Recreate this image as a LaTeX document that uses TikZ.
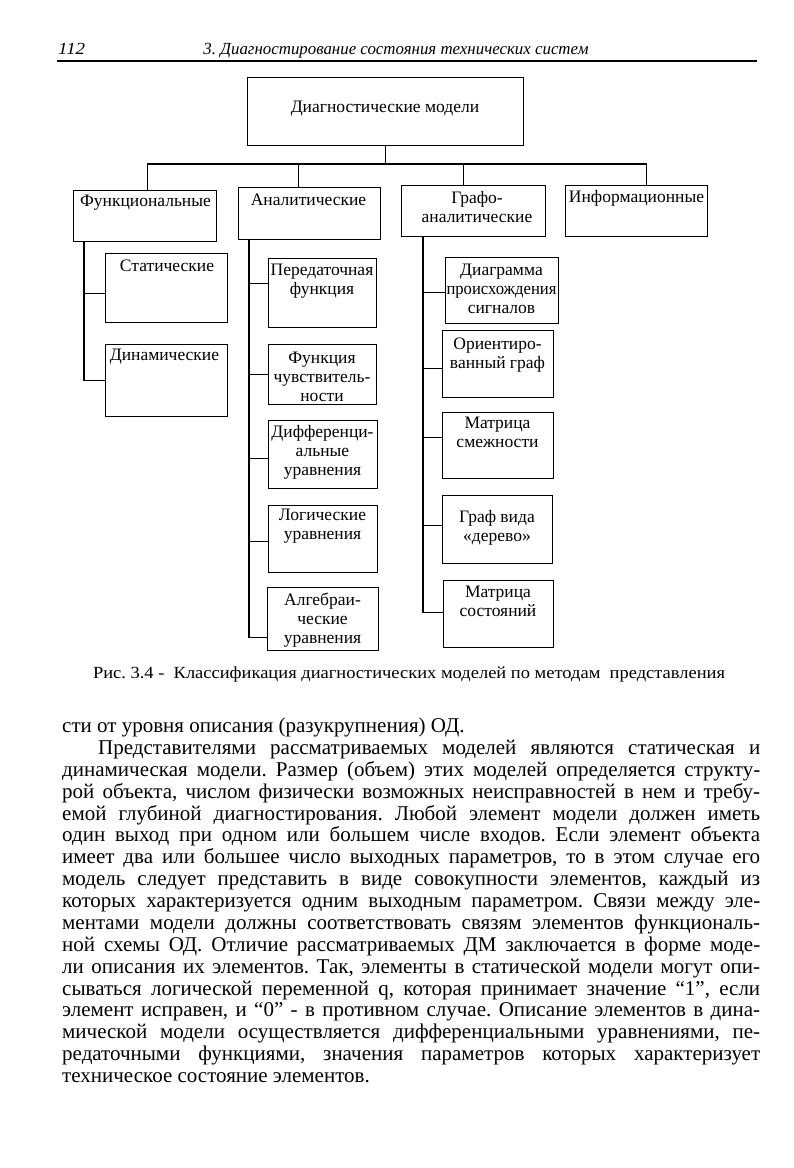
\documentclass[tikz,border=0pt]{standalone}
\usepackage{fontspec}
\setmainfont{Liberation Serif}
\usepackage{graphicx}
\frenchspacing
\newsavebox\jbox
\newcommand\jline[2]{\sbox\jbox{#2}\ifdim\wd\jbox>#1\relax\resizebox{#1}{\height}{\usebox\jbox}\else\makebox[#1][s]{#2}\fi}
\newcommand\fitw[2]{\resizebox{#1}{\height}{#2}}
\newcommand\mkbox[5]{\node[box, minimum width={(#4-#2)*1pt}, minimum height={(#5-#3)*1pt}] (#1) at (#2,#3) {};}
\tikzset{
  box/.style={draw, line width=1.3pt, rectangle, inner sep=0pt, anchor=north west},
  lbl/.style={inner sep=0pt, align=center, font=\fontsize{17.5}{19}\selectfont},
  con/.style={line width=1.3pt},
  body/.style={inner sep=0pt, anchor=base west, font=\fontsize{21}{22}\selectfont},
}
\begin{document}
\begin{tikzpicture}[x=1pt,y=-1pt]
\useasboundingbox (0,0) rectangle (793,1168);
\fill[white] (0,0) rectangle (793,1168);
% header
\node[anchor=base west, inner sep=0pt, font=\itshape\fontsize{17}{20}\selectfont] (pg) at (58,54) {\fitw{27pt}{112}};
\node[anchor=base, inner sep=0pt, font=\itshape\fontsize{17}{20}\selectfont] (hd) at (396,54) {\fitw{385pt}{3. Диагностирование состояния технических систем}};
\draw[line width=1.2pt] (57,61) -- (757,61);
% boxes
\mkbox{top}{247}{77}{523}{145}
\mkbox{F}{73}{190}{216}{241}
\mkbox{A}{238}{187}{380}{239}
\mkbox{G}{401}{185}{545}{236}
\mkbox{I}{565}{185}{707}{236}
\mkbox{F1}{105}{253}{227}{322}
\mkbox{F2}{105}{344}{227}{416}
\mkbox{A1}{268}{258}{376}{327}
\mkbox{A2}{268}{344}{376}{404}
\mkbox{A3}{268}{420}{377}{488}
\mkbox{A4}{268}{505}{377}{572}
\mkbox{A5}{267}{587}{378}{650}
\mkbox{G1}{445}{257}{558}{323}
\mkbox{G2}{442}{330}{553}{397}
\mkbox{G3}{442}{412}{553}{478}
\mkbox{G4}{442}{495}{552}{563}
\mkbox{G5}{443}{580}{553}{647}
% labels
\node[lbl] (ttop) at (385,109) {Диагностические модели};
\node[lbl] (tF) at (145.5,203) {Функциональные};
\node[lbl] (tA) at (308.5,200) {Аналитические};
\node[lbl] (tG) at (477,207.5) {Графо-\\аналитические};
\node[lbl] (tI) at (636.5,198) {Информационные};
\node[lbl] (tF1) at (167,266) {Статические};
\node[lbl] (tF2) at (164.5,357) {Динамические};
\node[lbl] (tA1) at (322,281.5) {Передаточная\\функция};
\node[lbl] (tA2) at (322,376.5) {Функция\\чувствитель-\\ности};
\node[lbl] (tA3) at (322.5,452) {Дифференци-\\альные\\уравнения};
\node[lbl] (tA4) at (322.5,526) {Логические\\уравнения};
\node[lbl] (tA5) at (322.5,620) {Алгебраи-\\ческие\\уравнения};
\node[lbl] (tG1) at (501.5,288.5) {Диаграмма\\\fitw{110pt}{происхождения}\\сигналов};
\node[lbl] (tG2) at (497.5,355) {Ориентиро-\\ванный граф};
\node[lbl] (tG3) at (497.5,432.5) {Матрица\\смежности};
\node[lbl] (tG4) at (497,527.5) {Граф вида\\«дерево»};
\node[lbl] (tG5) at (498,601) {Матрица\\состояний};
% bus connectors
\coordinate (bus) at (383,164);
\coordinate (dF) at ([xshift=2.5pt]F.north);
\coordinate (dA) at ([xshift=-11pt]A.north);
\coordinate (dG) at ([xshift=-10pt]G.north);
\coordinate (dI) at ([xshift=10pt]I.north);
\draw[con] (top.south) -- (top.south |- bus);
\draw[con] (dF) |- (dI |- bus) -- (dI);
\draw[con] (dA) -- (dA |- bus);
\draw[con] (dG) -- (dG |- bus);
% trunks
\coordinate (trF) at (84,241);
\coordinate (trA) at (249,239);
\coordinate (trG) at (423,236);
\draw[con] (trF) |- (F2.west);
\draw[con] ([yshift=-5.5pt]F1.west) -- ([yshift=-5.5pt]F1.west -| trF);
\draw[con] (trA) |- ([yshift=-18.5pt]A5.west);
\draw[con] ([yshift=9.5pt]A1.west) -- ([yshift=9.5pt]A1.west -| trA);
\draw[con] (A2.west) -- (A2.west -| trA);
\draw[con] ([yshift=-4pt]A3.west) -- ([yshift=-4pt]A3.west -| trA);
\draw[con] ([yshift=-2.5pt]A4.west) -- ([yshift=-2.5pt]A4.west -| trA);
\draw[con] (trG) |- ([yshift=1.5pt]G5.west);
\draw[con] ([yshift=-2pt]G1.west) -- ([yshift=-2pt]G1.west -| trG);
\draw[con] ([yshift=-4.5pt]G2.west) -- ([yshift=-4.5pt]G2.west -| trG);
\draw[con] ([yshift=8pt]G3.west) -- ([yshift=8pt]G3.west -| trG);
\draw[con] ([yshift=4pt]G4.west) -- ([yshift=4pt]G4.west -| trG);
% caption
\node[anchor=base, inner sep=0pt, font=\fontsize{17}{20}\selectfont] (cap) at (409,678) {\fitw{632pt}{Рис. 3.4 -\ \ Классификация диагностических моделей по методам\ \ представления}};
% body text
\node[body] (l1) at (62,732) {сти от уровня описания (разукрупнения) ОД.};
\node[body] (l2) at (98,754) {\jline{662pt}{Представителями рассматриваемых моделей являются статическая и}};
\node[body] (l3) at (62,776) {\jline{698pt}{динамическая модели. Размер (объем) этих моделей определяется структу-}};
\node[body] (l4) at (62,798) {\jline{698pt}{рой объекта, числом физически возможных неисправностей в нем и требу-}};
\node[body] (l5) at (62,820) {\jline{698pt}{емой глубиной диагностирования. Любой элемент модели должен иметь}};
\node[body] (l6) at (62,841) {\jline{698pt}{один выход при одном или большем числе входов. Если элемент объекта}};
\node[body] (l7) at (62,863) {\jline{698pt}{имеет два или большее число выходных параметров, то в этом случае его}};
\node[body] (l8) at (62,885) {\jline{698pt}{модель следует представить в виде совокупности элементов, каждый из}};
\node[body] (l9) at (62,907) {\jline{698pt}{которых характеризуется одним выходным параметром. Связи между эле-}};
\node[body] (l10) at (62,929) {\jline{698pt}{ментами модели должны соответствовать связям элементов функциональ-}};
\node[body] (l11) at (62,951) {\jline{698pt}{ной схемы ОД. Отличие рассматриваемых ДМ заключается в форме моде-}};
\node[body] (l12) at (62,973) {\jline{698pt}{ли описания их элементов. Так, элементы в статической модели могут опи-}};
\node[body] (l13) at (62,995) {\jline{698pt}{сываться логической переменной q, которая принимает значение “1”, если}};
\node[body] (l14) at (62,1016) {\jline{698pt}{элемент исправен, и “0” - в противном случае. Описание элементов в дина-}};
\node[body] (l15) at (62,1038) {\jline{698pt}{мической модели осуществляется дифференциальными уравнениями, пе-}};
\node[body] (l16) at (62,1060) {\jline{698pt}{редаточными функциями, значения параметров которых характеризует}};
\node[body] (l17) at (62,1082) {техническое состояние элементов.};
\end{tikzpicture}
\end{document}
